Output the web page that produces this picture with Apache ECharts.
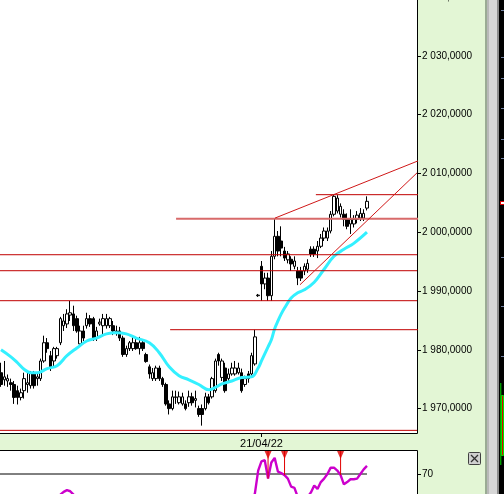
<!DOCTYPE html>
<html><head><meta charset="utf-8">
<script src="https://cdn.jsdelivr.net/npm/echarts@6/dist/echarts.min.js"></script>
<style>html,body{margin:0;padding:0;background:#e3f6d5;overflow:hidden}#c{width:504px;height:494px}</style>
</head><body><div id="c"></div>
<script>
// ---------- data ----------
const opens = [1976.1,1974.9,1974.7,1974.4,1974.1,1973.05,1971.9,1973.05,1974.1,1973.9,1976.1,1975.1,1975.1,1978.1,1981.2,1979.0,1978.1,1979.0,1981.2,1984.1,1984.4,1985.9,1986.1,1985.3,1981.0,1983.2,1984.1,1985.3,1985.3,1982.0,1984.4,1984.1,1984.1,1984.1,1984.1,1983.2,1983.2,1982.0,1979.2,1980.2,1980.2,1981.2,1980.2,1981.2,1979.2,1977.1,1975.1,1975.1,1976.9,1975.1,1974.1,1970.8,1970.0,1971.9,1971.0,1970.8,1970.8,1971.0,1972.0,1971.4,1970.0,1970.0,1970.0,1972.0,1972.0,1973.05,1979.2,1975.3,1976.9,1975.1,1975.9,1975.9,1976.1,1976.1,1974.1,1975.9,1975.9,1977.6,1989.2,1994.2,1991.2,1992.2,1989.2,1995.9,1999.3,1998.5,1996.8,1995.3,1995.4,1994.2,1993.4,1993.4,1993.4,1993.7,1997.1,1997.1,1996.8,1997.6,1999.0,1999.0,2000.2,2003.05,2003.6,2003.05,2003.05,2002.2,2001.4,2001.4,2002.2,2002.4,2002.4,2004.1];
const closes = [1974.1,1975.4,1975.1,1974.1,1971.9,1971.9,1972.7,1975.1,1974.4,1976.1,1973.9,1975.4,1978.1,1981.2,1980.2,1977.1,1980.2,1980.2,1985.3,1984.9,1986.1,1986.3,1984.1,1983.2,1983.2,1982.0,1985.3,1984.4,1981.9,1983.2,1984.7,1985.3,1985.3,1985.3,1983.2,1983.05,1982.0,1979.2,1980.2,1981.2,1981.2,1980.2,1981.2,1980.2,1978.0,1975.9,1976.1,1976.9,1975.1,1974.1,1970.8,1970.0,1972.0,1972.0,1972.0,1972.0,1970.0,1972.0,1971.0,1971.7,1969.0,1969.0,1972.0,1971.0,1975.1,1978.1,1978.1,1978.1,1973.05,1975.9,1976.9,1976.9,1976.9,1973.05,1975.1,1975.1,1979.0,1982.2,1989.3,1991.2,1992.2,1989.2,1995.9,1999.3,1996.8,1997.3,1995.6,1996.3,1994.6,1995.1,1992.2,1992.2,1994.2,1994.7,1996.3,1996.3,1997.6,1999.0,2000.2,2000.2,2003.05,2006.1,2005.8,2004.4,2002.2,2001.0,2002.2,2002.2,2002.9,2003.2,2003.2,2005.25];
const lows = [1973.7,1973.9,1973.7,1973.05,1970.8,1970.7,1971.4,1971.7,1972.7,1973.4,1973.4,1973.9,1974.7,1977.8,1979.5,1976.4,1977.1,1978.5,1980.8,1983.2,1983.7,1984.9,1983.2,1982.9,1980.7,1981.5,1983.6,1983.9,1981.5,1981.5,1984.1,1982.7,1983.6,1983.7,1982.5,1982.4,1981.5,1978.8,1978.8,1979.8,1979.8,1980.0,1979.2,1979.8,1977.8,1975.1,1974.7,1974.7,1974.7,1973.7,1970.5,1969.0,1969.7,1970.8,1970.7,1970.5,1969.7,1970.3,1970.5,1970.2,1968.6,1967.1,1969.7,1970.7,1971.7,1972.7,1977.3,1974.7,1972.7,1974.7,1975.6,1975.6,1975.8,1972.7,1973.7,1974.4,1975.6,1977.3,1989.0,1988.3,1990.3,1988.3,1988.3,1995.4,1995.9,1995.9,1995.1,1994.7,1993.4,1993.7,1991.0,1991.7,1992.7,1993.1,1995.8,1995.8,1995.6,1997.3,1998.5,1998.5,1999.8,2002.7,2003.2,2002.5,2001.0,2000.5,1999.7,2000.8,2001.5,2001.9,2001.9,2003.7];
const highs = [1977.8,1978.1,1975.8,1975.1,1974.7,1973.9,1973.4,1976.1,1976.1,1976.4,1976.4,1976.1,1978.5,1982.4,1982.0,1979.8,1980.5,1980.5,1985.6,1986.1,1986.9,1988.3,1987.5,1985.8,1984.1,1984.1,1986.3,1985.9,1985.6,1983.9,1985.3,1986.1,1986.1,1985.6,1984.9,1984.1,1983.9,1982.4,1980.7,1981.5,1982.2,1982.2,1982.2,1981.5,1979.5,1977.5,1976.9,1977.3,1977.3,1975.4,1974.4,1971.4,1973.05,1973.05,1972.9,1972.7,1971.4,1973.05,1972.7,1973.05,1970.5,1970.7,1972.7,1972.5,1975.4,1978.5,1979.5,1978.5,1977.8,1976.8,1977.8,1978.1,1977.8,1976.8,1975.6,1976.4,1979.5,1983.4,1989.5,1995.1,1993.1,1993.1,1996.8,2002.4,2000.2,2001.0,1997.5,1996.8,1995.9,1995.9,1994.1,1994.1,1994.7,1995.4,1997.6,1997.6,1998.5,1999.7,2000.8,2000.8,2003.6,2006.3,2006.3,2004.9,2003.9,2003.2,2003.9,2002.9,2003.6,2004.1,2003.9,2006.1];

// moving average (cyan), read at these bar indices
const maIndex  = [0,3,5,7,9,11,14,17,20,23,26,29,32,35,38,41,45,48,51,54,57,60,63,65,67,70,73,76,78,79,80,81,82,83,84,85,86,88,90,92,95,98,101,104,107,111];
const maValues = [1980.0,1978.8,1977.8,1976.7,1976.1,1976.1,1976.8,1977.3,1979.0,1980.3,1981.5,1982.0,1982.7,1982.9,1982.7,1982.0,1981.2,1979.5,1977.1,1975.6,1974.9,1974.1,1973.2,1973.6,1974.2,1974.7,1975.3,1975.4,1976.9,1978.1,1979.3,1980.5,1981.7,1983.6,1984.9,1986.1,1987.1,1988.8,1989.7,1990.2,1991.5,1993.7,1995.9,1997.1,1998.1,2000.0];

// oscillator (magenta), one value per bar
const oscValues = [40,42,38,35,33,30,32,35,38,36,40,38,42,45,44,43,46,50,
  52,54.5,56,55,52,
  48,45,44,47,46,49,45,48,50,51,50,47,48,45,40,42,44,46,
  45,44,40,35,30,28,30,32,30,26,22,20,25,27,28,26,30,28,30,25,
  22,30,28,38,42,48,46,45,40,42,44,45,42,44,47,46,
  53,73,81,82,66,80,84,72,70.8,69,66,59,58,50,46,45,50,54,60,57,63,66,70,75.5,75.5,73,69,61,63,65.4,65.4,66,70,74,77];
const signalIndex = [81, 86, 103];

const priceTicks = [1970,1980,1990,2000,2010,2020,2030,2040];
const oscTicks = [70];
const dateTickIndex = [79];
const dateTickLabels = ['21/04/22'];

// horizontal levels (null = runs across the whole panel)
const levelValues = [2006.38, 1996.17, 1993.45, 1988.35, 1983.42, 1966.3];
const levelFrom   = [95.5, null, null, null, 51.3, null];
const levelTo     = [134, null, null, null, 129.5, null];
const keyLevelValue = [2002.3];
const keyLevelFrom  = [53.1];
const keyLevelTo    = [142.9];
// trend lines
const trendFromIdx = [83.1, 90.7];
const trendFromVal = [2002.4, 1991.07];
const trendToIdx   = [128.6, 126.2];
const trendToVal   = [2012.6, 2010.1];
const oscLevel = [70];

// ---------- layout ----------
const PLOT_RIGHT = 417, BAR_PX = 3.297, FIRST_BAR_X = 1;
const xMin = -FIRST_BAR_X / BAR_PX;
const xMax = xMin + PLOT_RIGHT / BAR_PX;
const PRICE_MAX = 2040, PX_PER_UNIT = 5.88, MAIN_TOP = -3, MAIN_BOTTOM = 434;
const PRICE_MIN = PRICE_MAX - (MAIN_BOTTOM - MAIN_TOP) / PX_PER_UNIT;
const OSC_TOP = 451, OSC_PX = 1.15, OSC_MAX = 90, OSC_MIN = 0;
const FONT = '"Liberation Sans",Arial,sans-serif';

function fmtPrice(v) {
  const s = String(Math.round(v));
  return s.slice(0, s.length - 3) + ' ' + s.slice(-3) + ',0000';
}

const candleRows = opens.map((o, i) => [i, o, closes[i], lows[i], highs[i]]);

const series = [];
series.push({
  type: 'candlestick', xAxisIndex: 0, yAxisIndex: 0,
  data: candleRows, encode: { x: 0, y: [1, 2, 3, 4] },
  barWidth: 3,
  itemStyle: { color: '#ffffff', color0: '#000000', borderColor: '#000000', borderColor0: '#000000', borderColorDoji: '#000000', borderWidth: 1 },
  z: 2
});
series.push({
  type: 'line', xAxisIndex: 0, yAxisIndex: 0,
  data: maIndex.map((i, k) => [i, maValues[k]]),
  smooth: 0.4, symbol: 'none', silent: true,
  lineStyle: { color: '#33f0ff', width: 3 }, z: 3
});
levelValues.forEach((v, k) => {
  const a = levelFrom[k] == null ? xMin : levelFrom[k];
  const b = levelTo[k] == null ? xMax : levelTo[k];
  series.push({ type: 'line', xAxisIndex: 0, yAxisIndex: 0, data: [[a, v], [b, v]],
    symbol: 'none', clip: false, silent: true, lineStyle: { color: '#c00000', width: 1 }, z: 5 });
});
keyLevelValue.forEach((v, k) => {
  series.push({ type: 'line', xAxisIndex: 0, yAxisIndex: 0, data: [[keyLevelFrom[k], v], [keyLevelTo[k], v]],
    symbol: 'none', clip: false, silent: true, lineStyle: { color: '#d86a6a', width: 2 }, z: 5 });
});
trendFromIdx.forEach((a, k) => {
  series.push({ type: 'line', xAxisIndex: 0, yAxisIndex: 0, data: [[a, trendFromVal[k]], [trendToIdx[k], trendToVal[k]]],
    symbol: 'none', clip: false, silent: true, lineStyle: { color: '#d01818', width: 1 }, z: 5 });
});
// oscillator panel
series.push({ type: 'line', xAxisIndex: 1, yAxisIndex: 1,
  data: [[xMin, oscLevel[0]], [opens.length - 1, oscLevel[0]]],
  symbol: 'none', silent: true, lineStyle: { color: '#000', width: 1 }, z: 2 });
series.push({ type: 'line', xAxisIndex: 1, yAxisIndex: 1,
  data: oscValues.map((v, i) => [i, v]),
  symbol: 'none', silent: true, lineStyle: { color: '#cc00cc', width: 2.4 }, z: 3 });
signalIndex.forEach(i => {
  series.push({ type: 'line', xAxisIndex: 1, yAxisIndex: 1, data: [[i, OSC_MAX], [i, oscValues[i]]],
    symbol: 'none', silent: true, lineStyle: { color: '#e00000', width: 1 }, z: 4 });
});
series.push({ type: 'scatter', xAxisIndex: 1, yAxisIndex: 1,
  data: signalIndex.map(i => [i, OSC_MAX]),
  symbol: 'path://M0,0L10,0L5,10Z', symbolSize: [7, 8], symbolOffset: [0, 4],
  itemStyle: { color: '#e00000' }, silent: true, z: 5 });

const axisText = { color: '#000', fontSize: 10, fontFamily: FONT };

const ticksY = [57, 78, 108, 139, 158, 257, 306, 356, 10];

const option = {
  animation: false,
  backgroundColor: '#e3f6d5',
  grid: [
    { left: 0, top: MAIN_TOP, width: PLOT_RIGHT, height: MAIN_BOTTOM - MAIN_TOP, outerBoundsMode: 'none', containLabel: false },
    { left: 0, top: OSC_TOP, width: PLOT_RIGHT, height: (OSC_MAX - OSC_MIN) * OSC_PX, outerBoundsMode: 'none', containLabel: false }
  ],
  xAxis: [
    { type: 'value', gridIndex: 0, min: xMin, max: xMax,
      axisLine: { show: false, onZero: false }, splitLine: { show: false },
      axisTick: { show: true, customValues: dateTickIndex, length: 3, lineStyle: { color: '#000' } },
      axisLabel: Object.assign({ customValues: dateTickIndex, margin: 4,
        formatter: v => dateTickLabels[dateTickIndex.indexOf(Math.round(v))] || '' }, axisText, { fontSize: 11 }) },
    { type: 'value', gridIndex: 1, min: xMin, max: xMax, show: false, axisLine: { onZero: false } }
  ],
  yAxis: [
    { type: 'value', gridIndex: 0, position: 'right', min: PRICE_MIN, max: PRICE_MAX,
      axisLine: { show: false, onZero: false }, splitLine: { show: false },
      axisTick: { show: true, customValues: priceTicks, length: 4, lineStyle: { color: '#000' } },
      axisLabel: Object.assign({ customValues: priceTicks, margin: 5, formatter: fmtPrice }, axisText) },
    { type: 'value', gridIndex: 1, position: 'right', min: OSC_MIN, max: OSC_MAX,
      axisLine: { show: false, onZero: false }, splitLine: { show: false },
      axisTick: { show: true, customValues: oscTicks, length: 4, lineStyle: { color: '#000' } },
      axisLabel: Object.assign({ customValues: oscTicks, margin: 5, formatter: v => String(Math.round(v)) }, axisText) }
  ],
  graphic: [
    { type: 'rect', z: 0, silent: true, shape: { x: -2, y: -2, width: PLOT_RIGHT + 2.5, height: MAIN_BOTTOM + 1.5 },
      style: { fill: '#ffffff', stroke: '#000', lineWidth: 1 } },
    { type: 'rect', z: 0, silent: true, shape: { x: -2, y: OSC_TOP - 0.5, width: PLOT_RIGHT + 2.5, height: 60 },
      style: { fill: '#ffffff', stroke: '#000', lineWidth: 1 } },
    { type: 'rect', z: 10, silent: true, shape: { x: 485, y: 0, width: 2, height: 494 }, style: { fill: '#9aab94' } },
    { type: 'rect', z: 10, silent: true, shape: { x: 487, y: 0, width: 2, height: 494 }, style: { fill: '#b8b8b8' } },
    { type: 'rect', z: 10, silent: true, shape: { x: 489, y: 0, width: 8, height: 494 }, style: { fill: '#d6d6d6' } },
    { type: 'rect', z: 10, silent: true, shape: { x: 497, y: 0, width: 2, height: 494 }, style: { fill: '#8c8c8c' } },
    { type: 'rect', z: 10, silent: true, shape: { x: 499, y: 0, width: 5, height: 494 }, style: { fill: '#000000' } },
    ...ticksY.map(t => ({ type: 'line', z: 11, silent: true, shape: { x1: 501, y1: t + 0.5, x2: 504, y2: t + 0.5 }, style: { stroke: '#6f7fa0', lineWidth: 1 } })),
    { type: 'rect', z: 11, silent: true, shape: { x: 500.5, y: 201.5, width: 4, height: 3 }, style: { fill: '#fff', stroke: '#e00000', lineWidth: 1 } },
    { type: 'line', z: 11, silent: true, shape: { x1: 500.8, y1: 383, x2: 500.8, y2: 465 }, style: { stroke: '#00e000', lineWidth: 1 } },
    { type: 'rect', z: 11, silent: true, shape: { x: 501.5, y: 395.5, width: 2, height: 60 }, style: { fill: '#e00000', stroke: '#00e000', lineWidth: 1 } },
    { type: 'rect', z: 11, silent: true, shape: { x: 468.5, y: 452.5, width: 12, height: 12, r: 1 }, style: { fill: '#cfcfcf', stroke: '#404040', lineWidth: 1 } },
    { type: 'line', z: 12, silent: true, shape: { x1: 471, y1: 455, x2: 478, y2: 462 }, style: { stroke: '#303030', lineWidth: 1.3 } },
    { type: 'line', z: 12, silent: true, shape: { x1: 478, y1: 455, x2: 471, y2: 462 }, style: { stroke: '#303030', lineWidth: 1.3 } }
  ],
  series: series
};

const chart = echarts.init(document.getElementById('c'), null, { renderer: 'canvas' });
chart.setOption(option);
</script>
</body></html>
